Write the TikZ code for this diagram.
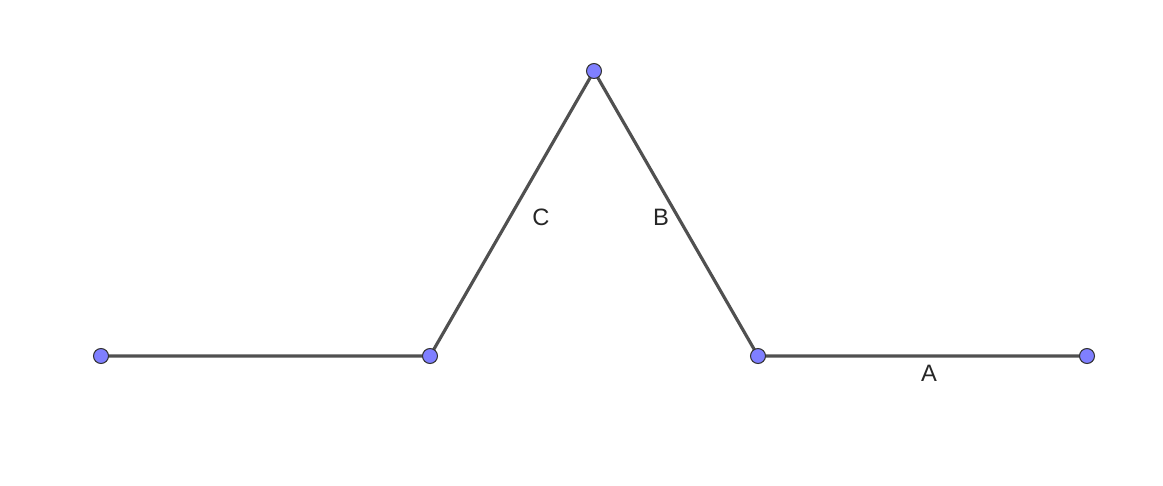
\documentclass[tikz,border=0pt]{standalone}
\usepackage{fontspec}
\setmainfont{Liberation Sans}
\definecolor{ptfill}{HTML}{7F7FFF}
\definecolor{segcol}{HTML}{505050}
\begin{document}
\begin{tikzpicture}[x=0.02cm,y=-0.02cm,
  seg/.style={draw=segcol,line width=1.8pt},
  pt/.style={circle,draw=black!80,fill=ptfill,line width=0.6pt,minimum size=0.3cm,inner sep=0pt},
  lbl/.style={font=\fontsize{13.5}{15}\selectfont,text=black!85,inner sep=0pt}]
\useasboundingbox (0,0) rectangle (1163,485);
\coordinate (p1) at (101,356);
\coordinate (p2) at (430,356);
\coordinate (p3) at (594,71);
\coordinate (p4) at (758,356);
\coordinate (p5) at (1087,356);
\draw[seg] (p1) -- (p2) -- (p3) -- (p4) -- (p5);
\node[pt] (n1) at (p1) {};
\node[pt] (n2) at (p2) {};
\node[pt] (n3) at (p3) {};
\node[pt] (n4) at (p4) {};
\node[pt] (n5) at (p5) {};
\node[lbl] (lc) at (541,217) {C};
\node[lbl] (lb) at (661,217) {B};
\node[lbl] (la) at (929,373) {A};
\end{tikzpicture}
\end{document}
